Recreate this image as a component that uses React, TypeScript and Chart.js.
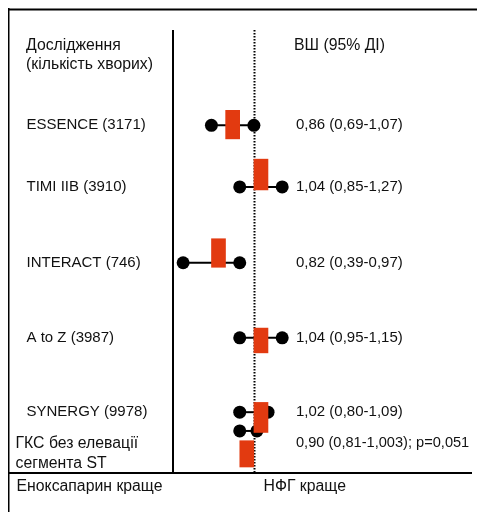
import React, { useEffect, useRef } from "react";
import { Chart, registerables } from "chart.js";

Chart.register(...registerables);

// ---- data ----
const studyLabels = [
  "ESSENCE (3171)",
  "TIMI IIB (3910)",
  "INTERACT (746)",
  "A to Z (3987)",
  "SYNERGY (9978)",
];
const orLabels = [
  "0,86 (0,69-1,07)",
  "1,04 (0,85-1,27)",
  "0,82 (0,39-0,97)",
  "1,04 (0,95-1,15)",
  "1,02 (0,80-1,09)",
  "0,90 (0,81-1,003); p=0,051",
];
const summaryLabel = ["ГКС без елевації", "сегмента ST"];
const headerLeft = ["Дослідження", "(кількість хворих)"];
const headerRight = "ВШ (95% ДІ)";
const footerLeft = "Еноксапарин краще";
const footerRight = "НФГ краще";

// plotted positions (studies + pooled estimate)
const rowY = [1.27, 2.09, 3.1, 4.1, 5.09, 5.34];
const ciLow = [0.79, 0.93, 0.65, 0.93, 0.93, 0.93];
const ciHigh = [1.0, 1.14, 0.93, 1.14, 1.07, 1.015];
const pointEst = [0.895, 1.035, 0.825, 1.035, 1.035, 0.965];
const boxTop = [1.07, 1.72, 2.78, 3.97, 4.96, 5.47];
const boxBottom = [1.45, 2.13, 3.16, 4.3, 5.36, 5.82];
const refValue = 1;

const FONT = '15px "Liberation Sans", Arial, sans-serif';
const FONT_SUM = '14.6px "Liberation Sans", Arial, sans-serif';
const FONT_CYR = '15.8px "Liberation Sans", Arial, sans-serif';

const decorPlugin = {
  id: "forestDecor",
  beforeDatasetsDraw(chart: any) {
    const { ctx, chartArea, scales } = chart;
    const x = scales.x;
    ctx.save();
    const rx = Math.round(x.getPixelForValue(refValue)) + 0.5;
    ctx.strokeStyle = "#000";
    ctx.lineWidth = 2;
    ctx.setLineDash([1.5, 1.5]);
    ctx.beginPath();
    ctx.moveTo(rx, chartArea.top);
    ctx.lineTo(rx, chartArea.bottom);
    ctx.stroke();
    ctx.restore();
  },
  afterDraw(chart: any) {
    const { ctx, chartArea, scales, width, height } = chart;
    const y = scales.y;
    ctx.save();
    ctx.strokeStyle = "#000";
    ctx.setLineDash([]);
    ctx.lineWidth = 2;
    ctx.beginPath();
    ctx.moveTo(0, 1.5);
    ctx.lineTo(width, 1.5);
    ctx.stroke();
    ctx.lineWidth = 1.5;
    ctx.beginPath();
    ctx.moveTo(0.75, 0);
    ctx.lineTo(0.75, height);
    ctx.stroke();
    ctx.lineWidth = 2;
    ctx.beginPath();
    ctx.moveTo(chartArea.left, chartArea.top);
    ctx.lineTo(chartArea.left, chartArea.bottom + 1);
    ctx.stroke();
    ctx.beginPath();
    ctx.moveTo(0, chartArea.bottom);
    ctx.lineTo(width - 5, chartArea.bottom);
    ctx.stroke();

    ctx.fillStyle = "#111";
    ctx.textBaseline = "middle";
    ctx.textAlign = "left";
    ctx.font = FONT_CYR;
    ctx.fillText(headerLeft[0], 18, 37.5);
    ctx.fillText(headerLeft[1], 18, 56.5);
    ctx.fillText(headerRight, 286, 37.5);
    ctx.font = FONT;
    studyLabels.forEach((t, i) => {
      const py = y.getPixelForValue(rowY[i]);
      ctx.fillText(t, 18.5, py);
      ctx.fillText(orLabels[i], 288, py);
    });
    const sy = y.getPixelForValue((boxTop[5] + boxBottom[5]) / 2);
    ctx.font = FONT_SUM;
    ctx.fillText(orLabels[5], 288, sy - 10.5);
    ctx.font = FONT_CYR;
    ctx.fillText(summaryLabel[0], 7.5, sy - 10.5);
    ctx.fillText(summaryLabel[1], 7.5, sy + 10);
    ctx.fillText(footerLeft, 8.5, chartArea.bottom + 13.5);
    ctx.fillText(footerRight, 255.5, chartArea.bottom + 13.5);
    ctx.restore();
  },
};

export default function App() {
  const ref = useRef<HTMLCanvasElement | null>(null);
  useEffect(() => {
    if (!ref.current) return;
    const boxes = pointEst.map((v, i) => ({ x: v, y: [boxTop[i], boxBottom[i]] }));
    const ciSets = rowY.map((ry, i) => ({
      type: "line" as const,
      data: [
        { x: ciLow[i], y: ry },
        { x: ciHigh[i], y: ry },
      ],
      borderColor: "#000",
      borderWidth: 2,
      pointRadius: 6.5,
      pointHoverRadius: 6.5,
      pointBackgroundColor: "#000",
      pointBorderColor: "#000",
      pointBorderWidth: 0,
      clip: false as any,
      order: 2,
    }));
    const chart = new Chart(ref.current, {
      type: "bar",
      data: {
        datasets: [
          {
            type: "bar",
            data: boxes as any,
            backgroundColor: "#E23A10",
            borderWidth: 0,
            barThickness: 14,
            order: 0,
            clip: false as any,
          } as any,
          ...ciSets,
        ],
      },
      options: {
        animation: false,
        responsive: false,
        devicePixelRatio: 1,
        layout: { padding: { left: 165, right: 122, top: 22, bottom: 39 } },
        plugins: { legend: { display: false }, tooltip: { enabled: false } },
        events: [],
        scales: {
          x: { type: "linear", min: 0.6, max: 1.5, offset: false, display: false },
          y: { type: "linear", min: 0, max: 5.9, reverse: true, display: false },
        },
      },
      plugins: [decorPlugin],
    });
    return () => chart.destroy();
  }, []);
  return (
    <div style={{ position: "absolute", left: 8, top: 8, width: 469, height: 504 }}>
      <canvas ref={ref} width={469} height={504} style={{ display: "block" }} />
    </div>
  );
}
